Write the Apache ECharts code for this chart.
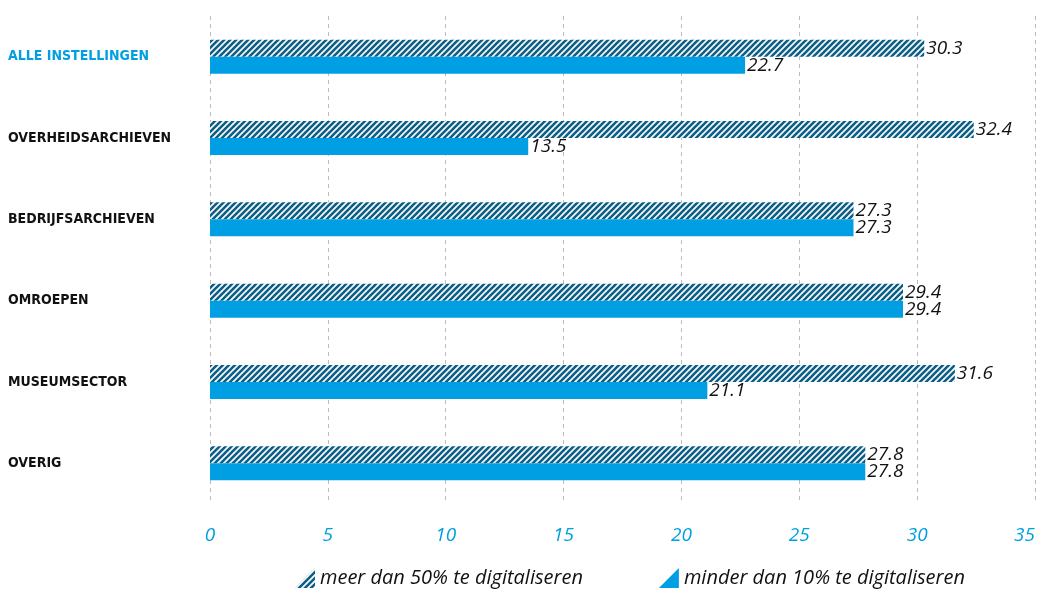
<!DOCTYPE html>
<html><head><meta charset="utf-8">
<script src="https://cdn.jsdelivr.net/npm/echarts@6/dist/echarts.min.js"></script>
<style>html,body{margin:0;padding:0;background:#fff}#c{width:1041px;height:595px}</style>
</head><body><div id="c"></div>
<script>
const categories = ['ALLE INSTELLINGEN','OVERHEIDSARCHIEVEN','BEDRIJFSARCHIEVEN','OMROEPEN','MUSEUMSECTOR','OVERIG'];
const seriesNames = ['meer dan 50% te digitaliseren','minder dan 10% te digitaliseren'];
const meerDan50 = [30.3, 32.4, 27.3, 29.4, 31.6, 27.8];
const minderDan10 = [22.7, 13.5, 27.3, 29.4, 21.1, 27.8];

function hatch(color){
  const c = document.createElement('canvas');
  c.width = 6; c.height = 6;
  const g = c.getContext('2d');
  g.fillStyle = '#fff'; g.fillRect(0,0,6,6);
  g.strokeStyle = color; g.lineWidth = 2.6;
  g.beginPath();
  g.moveTo(-1,7); g.lineTo(7,-1);
  g.moveTo(-4,4); g.lineTo(4,-4);
  g.moveTo(2,10); g.lineTo(10,2);
  g.stroke();
  return c;
}
const dark = '#0b5f87', blue = '#009fe3';
const catFont = "'DejaVu Sans Condensed', Roboto, sans-serif";
const chart = echarts.init(document.getElementById('c'));
const labelFont = {show:true, position:'right', distance:2, color:'#111', fontStyle:'italic', fontSize:19, fontFamily:'Open Sans', formatter: p => p.value.toFixed(1)};
chart.setOption({
  animation:false,
  grid:{left:210, right:6, top:16, bottom:91, containLabel:false, outerBoundsMode:'none'},
  xAxis:{type:'value', min:0, max:35, interval:5,
    axisLine:{show:false}, axisTick:{show:false},
    splitLine:{show:true, lineStyle:{type:[4,4], color:'#bdbdbd', width:1}},
    axisLabel:{color:blue, fontStyle:'italic', fontSize:19, fontFamily:'Open Sans', margin:22, alignMaxLabel:'right'}},
  yAxis:{type:'category', inverse:true,
    data: categories.map((c,i)=> i===0 ? {value:c, textStyle:{color:blue, align:'left', fontWeight:'bold', fontSize:14, fontFamily:catFont}} : c),
    axisLine:{show:false}, axisTick:{show:false},
    axisLabel:{align:'left', margin:202, color:'#111', fontWeight:'bold', fontSize:14, fontFamily:catFont}},
  legend:{bottom:2, left:290, itemGap:76, itemWidth:20, itemHeight:20,
    textStyle:{fontStyle:'italic', fontSize:20, color:'#111', fontFamily:'Open Sans'},
    data:[{name:seriesNames[0], icon:'path://M0,10 L10,0 L10,10 Z'},{name:seriesNames[1], icon:'path://M0,10 L10,0 L10,10 Z'}]},
  series:[
    {name:seriesNames[0], type:'bar', data:meerDan50, barWidth:17, barGap:'0%',
      itemStyle:{color:{image:hatch(dark), repeat:'repeat'}}, label:labelFont},
    {name:seriesNames[1], type:'bar', data:minderDan10, barWidth:17, barGap:'0%',
      itemStyle:{color:blue}, label:labelFont}
  ]
});
</script></body></html>
